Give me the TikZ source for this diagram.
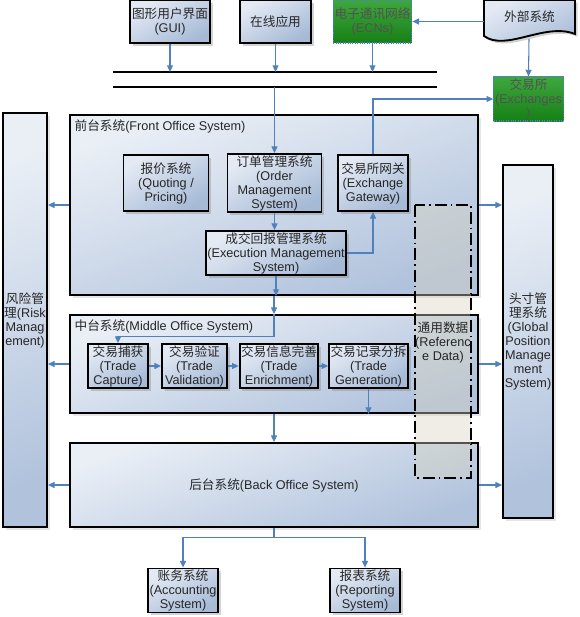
\documentclass[tikz,border=0pt]{standalone}
\usepackage{fontspec}
\setmainfont{Liberation Sans}
\newfontfamily\cjk{Noto Sans CJK SC}
\newcommand{\zh}[1]{{\cjk #1}}
\usetikzlibrary{arrows.meta,shadows}
\definecolor{boxlight}{RGB}{228,234,244}
\definecolor{boxdark}{RGB}{166,186,214}
\definecolor{panellight}{RGB}{234,239,246}
\definecolor{paneldark}{RGB}{176,194,220}
\definecolor{ecnlight}{RGB}{62,168,62}
\definecolor{ecngreen}{RGB}{22,128,22}
\definecolor{linkblue}{RGB}{79,129,189}
\definecolor{refbeige}{RGB}{214,211,190}
\definecolor{txtgray}{RGB}{38,38,38}

\begin{document}
\begin{tikzpicture}[x=0.75pt,y=-0.75pt,
  font=\fontsize{9.5}{10.5}\selectfont,
  boxsize/.style 2 args={minimum width=#1*0.75pt,minimum height=#2*0.75pt},
  sysbox/.style={draw=black,line width=1.4pt,top color=boxlight,bottom color=boxdark,
    shading angle=30,align=center,inner sep=1pt,text=txtgray,
    drop shadow={shadow xshift=2pt,shadow yshift=-2pt,opacity=.35}},
  panel/.style={draw=black,line width=1.4pt,top color=panellight,bottom color=paneldark,
    shading angle=20,inner sep=0pt,
    drop shadow={shadow xshift=2.5pt,shadow yshift=-2.5pt,opacity=.2}},
  netbox/.style={draw=linkblue,densely dotted,line width=.8pt,top color=ecnlight,
    bottom color=ecngreen,align=center,inner sep=1pt,text=black!68},
  link/.style={draw=linkblue,line width=.8pt,-{Triangle[length=5pt,width=4.5pt]}},
  bus/.style={line width=1.5pt,black}]
  \useasboundingbox (0,0) rectangle (580,617);

  % entry channels
  \node[sysbox,boxsize={80}{43}] (gui) at (170,21.5) {\zh{图形用户界面}\\(GUI)};
  \node[sysbox,boxsize={71}{43}] (online) at (275.5,21.5) {\zh{在线应用}};
  \node[netbox,boxsize={78}{43}] (ecn) at (372.5,21.5) {\zh{电子通讯网络}\\(ECNs)};
  \draw[line width=1.4pt,top color=boxlight,bottom color=boxdark,shading angle=30,
        drop shadow={shadow xshift=2pt,shadow yshift=-2pt,opacity=.35}]
    (484,0) -- (484,36) .. controls (506,52) and (545,22) .. (575,34) -- (575,0) -- cycle;
  \node[boxsize={91}{34},text=txtgray] (ext) at (529.5,17) {\zh{外部系统}};
  \coordinate (extfoot) at (529,39);
  \node[netbox,boxsize={69}{42}] (exch) at (528.5,99) {\zh{交易所}\\(Exchanges\\)};

  % message bus
  \coordinate (busAw) at (113,72); \coordinate (busAe) at (437,72);
  \coordinate (busBw) at (113,87); \coordinate (busBe) at (437,87);
  \draw[bus] (busAw) -- (busAe);
  \draw[bus] (busBw) -- (busBe);

  % side systems
  \node[panel,boxsize={44}{414},align=center,text=txtgray] (risk) at (25,320)
    {\zh{风险管}\\\zh{理}(Risk\\Manag\\ement)};
  \node[panel,boxsize={50}{353},align=center,text=txtgray] (gpos) at (528,341.5)
    {\zh{头寸管}\\\zh{理系统}\\(Global\\Position\\Manage\\ment\\System)};

  % front office
  \node[panel,boxsize={408}{180}] (front) at (274,205) {};
  \node[anchor=north west,text=txtgray,inner sep=1pt] (frontlbl) at (73,118)
    {\zh{前台系统}(Front Office System)};
  \node[sysbox,boxsize={85}{56}] (quote) at (166,183) {\zh{报价系统}\\(Quoting /\\Pricing)};
  \node[sysbox,boxsize={94}{56}] (oms) at (274.5,183) {\zh{订单管理系统}\\(Order\\Management\\System)};
  \node[sysbox,boxsize={70}{56}] (gw) at (373,183) {\zh{交易所网关}\\(Exchange\\Gateway)};
  \node[sysbox,boxsize={140}{42}] (ems) at (276,253)
    {\zh{成交回报管理系统}\\(Execution Management\\System)};

  % middle office
  \node[panel,boxsize={408}{98}] (middle) at (274,364) {};
  \node[anchor=north west,text=txtgray,inner sep=1pt] (midlbl) at (73,318)
    {\zh{中台系统}(Middle Office System)};
  \node[sysbox,boxsize={60}{43}] (capture) at (118,366) {\zh{交易捕获}\\(Trade\\Capture)};
  \node[sysbox,boxsize={65}{43}] (valid) at (194.5,366) {\zh{交易验证}\\(Trade\\Validation)};
  \node[sysbox,boxsize={78}{43}] (enrich) at (279,366) {\zh{交易信息完善}\\(Trade\\Enrichment)};
  \node[sysbox,boxsize={77}{43}] (gen) at (368.5,366) {\zh{交易记录分拆}\\(Trade\\Generation)};

  % back office
  \node[panel,boxsize={408}{84},text=txtgray] (back) at (274,485)
    {\zh{后台系统}(Back Office System)};
  \node[sysbox,boxsize={70}{43}] (acct) at (183,590.5) {\zh{账务系统}\\(Accounting\\System)};
  \node[sysbox,boxsize={70}{43}] (report) at (365,590.5) {\zh{报表系统}\\(Reporting\\System)};

  % reference data
  \draw[line width=1.5pt,dash pattern=on 9pt off 3pt on 1.2pt off 3pt,
        fill=refbeige,fill opacity=.4] (415,205) rectangle (471,478);
  \node[align=center,text=txtgray,inner sep=0pt] (refdata) at (443,342)
    {\zh{通用数据}\\(Referenc\\e Data)};

  % connectors
  \foreach \n in {gui,online,ecn}
    \draw[link] (\n.south) -- (\n.south |- busAw);
  \draw[link] (ext.west |- ecn.east) -- (ecn.east);
  \draw[link] (extfoot) -- (exch.north);
  \draw[link] (oms.north |- busBw) -- (oms.north);
  \draw[link] (oms.south) -- (oms.south |- ems.north);
  \draw[link] (ems.east) -| (gw.south);
  \draw[link] (gw.north) |- (exch.west);
  \draw[link] (ems.south) -- (ems.south |- front.south);
  \draw[link] (front.south) -- (middle.north);
  \draw[link] (middle.north) -- ++(0,22) -| (capture.north);
  \foreach \a/\b in {capture/valid,valid/enrich,enrich/gen}
    \draw[link] (\a) -- (\b);
  \draw[link] (gen.south) -- (gen.south |- middle.south);
  \draw[link] (middle.south) -- (back.north);
  \foreach \p in {front,middle,back}{
    \draw[link] (\p.west) -- (\p.west -| risk.east);
    \draw[link] (\p.east) -- (\p.east -| gpos.west);
  }
  \draw[link] (back.south) -- ++(0,10) -| (acct.north);
  \draw[link] (back.south) -- ++(0,10) -| (report.north);
\end{tikzpicture}
\end{document}
